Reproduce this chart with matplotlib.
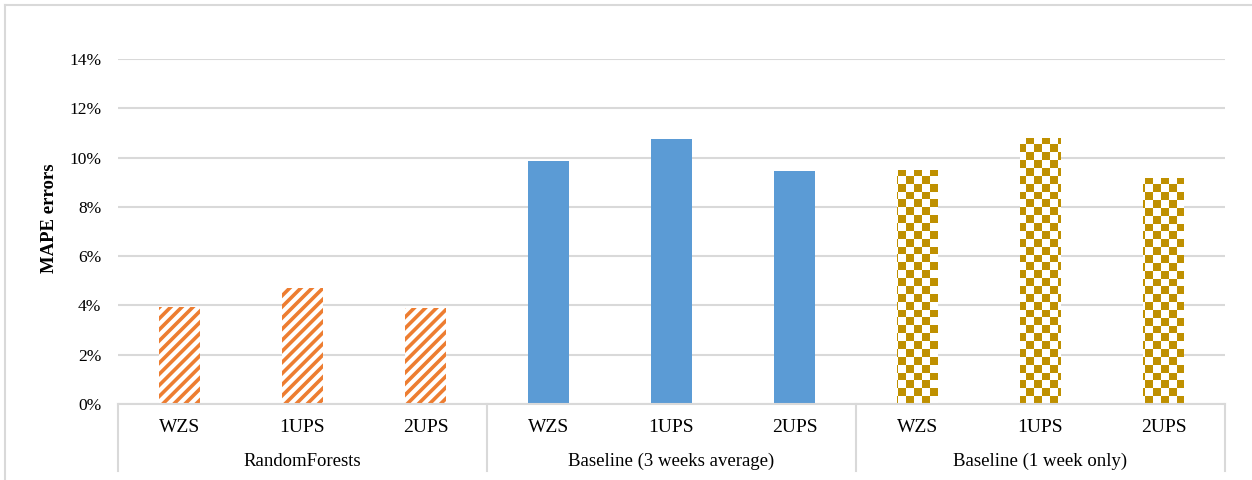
# -*- coding: utf-8 -*-
"""
    MAPE errors by model and scenario
"""

import numpy as np
import matplotlib.pyplot as plt
from matplotlib.colors import ListedColormap
from matplotlib.lines import Line2D
import matplotlib.transforms as mtrans

#========== DATA ==========#

scenarios = ["WZS", "1UPS", "2UPS"]
groups = ["RandomForests", "Baseline (3 weeks average)", "Baseline (1 week only)"]
mape_rf = [0.0394, 0.0471, 0.0390]
mape_base3 = [0.0986, 0.1075, 0.0946]
mape_base1 = [0.0950, 0.1080, 0.0917]
y_ticks = [0, 0.02, 0.04, 0.06, 0.08, 0.10, 0.12, 0.14]

ORANGE = "#ED7D31"
BLUE = "#5B9BD5"
GOLD = "#BF9000"
GRID = "#D9D9D9"

plt.rcParams["font.family"] = ["Liberation Serif", "DejaVu Serif"]
plt.rcParams["hatch.linewidth"] = 2.6

#========== PLOT ==========#

fig = plt.figure(figsize=(12.52, 4.8), dpi=100)
ax = fig.add_axes([118 / 1252, 1 - 404 / 480, 1107 / 1252, 345 / 480])

width = 1 / 3
x_rf = np.arange(0, 3)
x_b3 = np.arange(3, 6)
x_b1 = np.arange(6, 9)

ax.bar(x_rf, mape_rf, width, facecolor="white", edgecolor=ORANGE,
       linewidth=0, hatch="///", zorder=2)
ax.bar(x_b3, mape_base3, width, color=BLUE, linewidth=0, zorder=2)
bars_b1 = ax.bar(x_b1, mape_base1, width, facecolor="none", linewidth=0, zorder=2)

# checkerboard fill, 8px squares
ny, nx = 345 // 8 + 1, 1107 // 8 + 1
checker = np.add.outer(np.arange(ny), np.arange(nx)) % 2
cmap = ListedColormap(["white", GOLD])
for bar in bars_b1:
    im = ax.imshow(checker, cmap=cmap, extent=(-0.5, 8.5, 0, 0.14),
                   aspect="auto", interpolation="nearest", zorder=2, origin="lower")
    im.set_clip_path(bar)

ax.set_xlim(-0.5, 8.5)
ax.set_ylim(0, 0.14)
ax.set_yticks(y_ticks)
ax.set_yticklabels(["%d%%" % round(v * 100) for v in y_ticks], fontsize=12.5)
ax.tick_params(axis="y", length=0, pad=12)
ax.set_xticks([])
ax.grid(axis="y", color=GRID, linewidth=1.5, zorder=0)
for side in ["top", "right", "left"]:
    ax.spines[side].set_visible(False)
ax.spines["bottom"].set_color(GRID)
ax.spines["bottom"].set_linewidth(1.5)
ax.text(-68 / 1107, 0.539, "MAPE errors", transform=ax.transAxes, rotation=90,
        ha="center", va="center", fontsize=13.5, fontweight="bold")

# multi-level category axis
trans = mtrans.blended_transform_factory(ax.transData, ax.transAxes)
for x in [-0.5, 2.5, 5.5, 8.5]:
    ax.plot([x, x], [0, -67 / 345], color=GRID, linewidth=1.5,
            transform=trans, clip_on=False)
for i in range(9):
    ax.text(i, -23 / 345, scenarios[i % 3], transform=trans,
            ha="center", va="center", fontsize=14)
for g, name in enumerate(groups):
    ax.text(3 * g + 1, -57 / 345, name, transform=trans,
            ha="center", va="center", fontsize=13.5)

# chart frame
fig.add_artist(Line2D([5 / 1252, 1], [1 - 5 / 480, 1 - 5 / 480],
                      color=GRID, linewidth=1.5, transform=fig.transFigure))
fig.add_artist(Line2D([5 / 1252, 5 / 1252], [0, 1 - 5 / 480],
                      color=GRID, linewidth=1.5, transform=fig.transFigure))

fig.savefig("out.png", dpi=100)
